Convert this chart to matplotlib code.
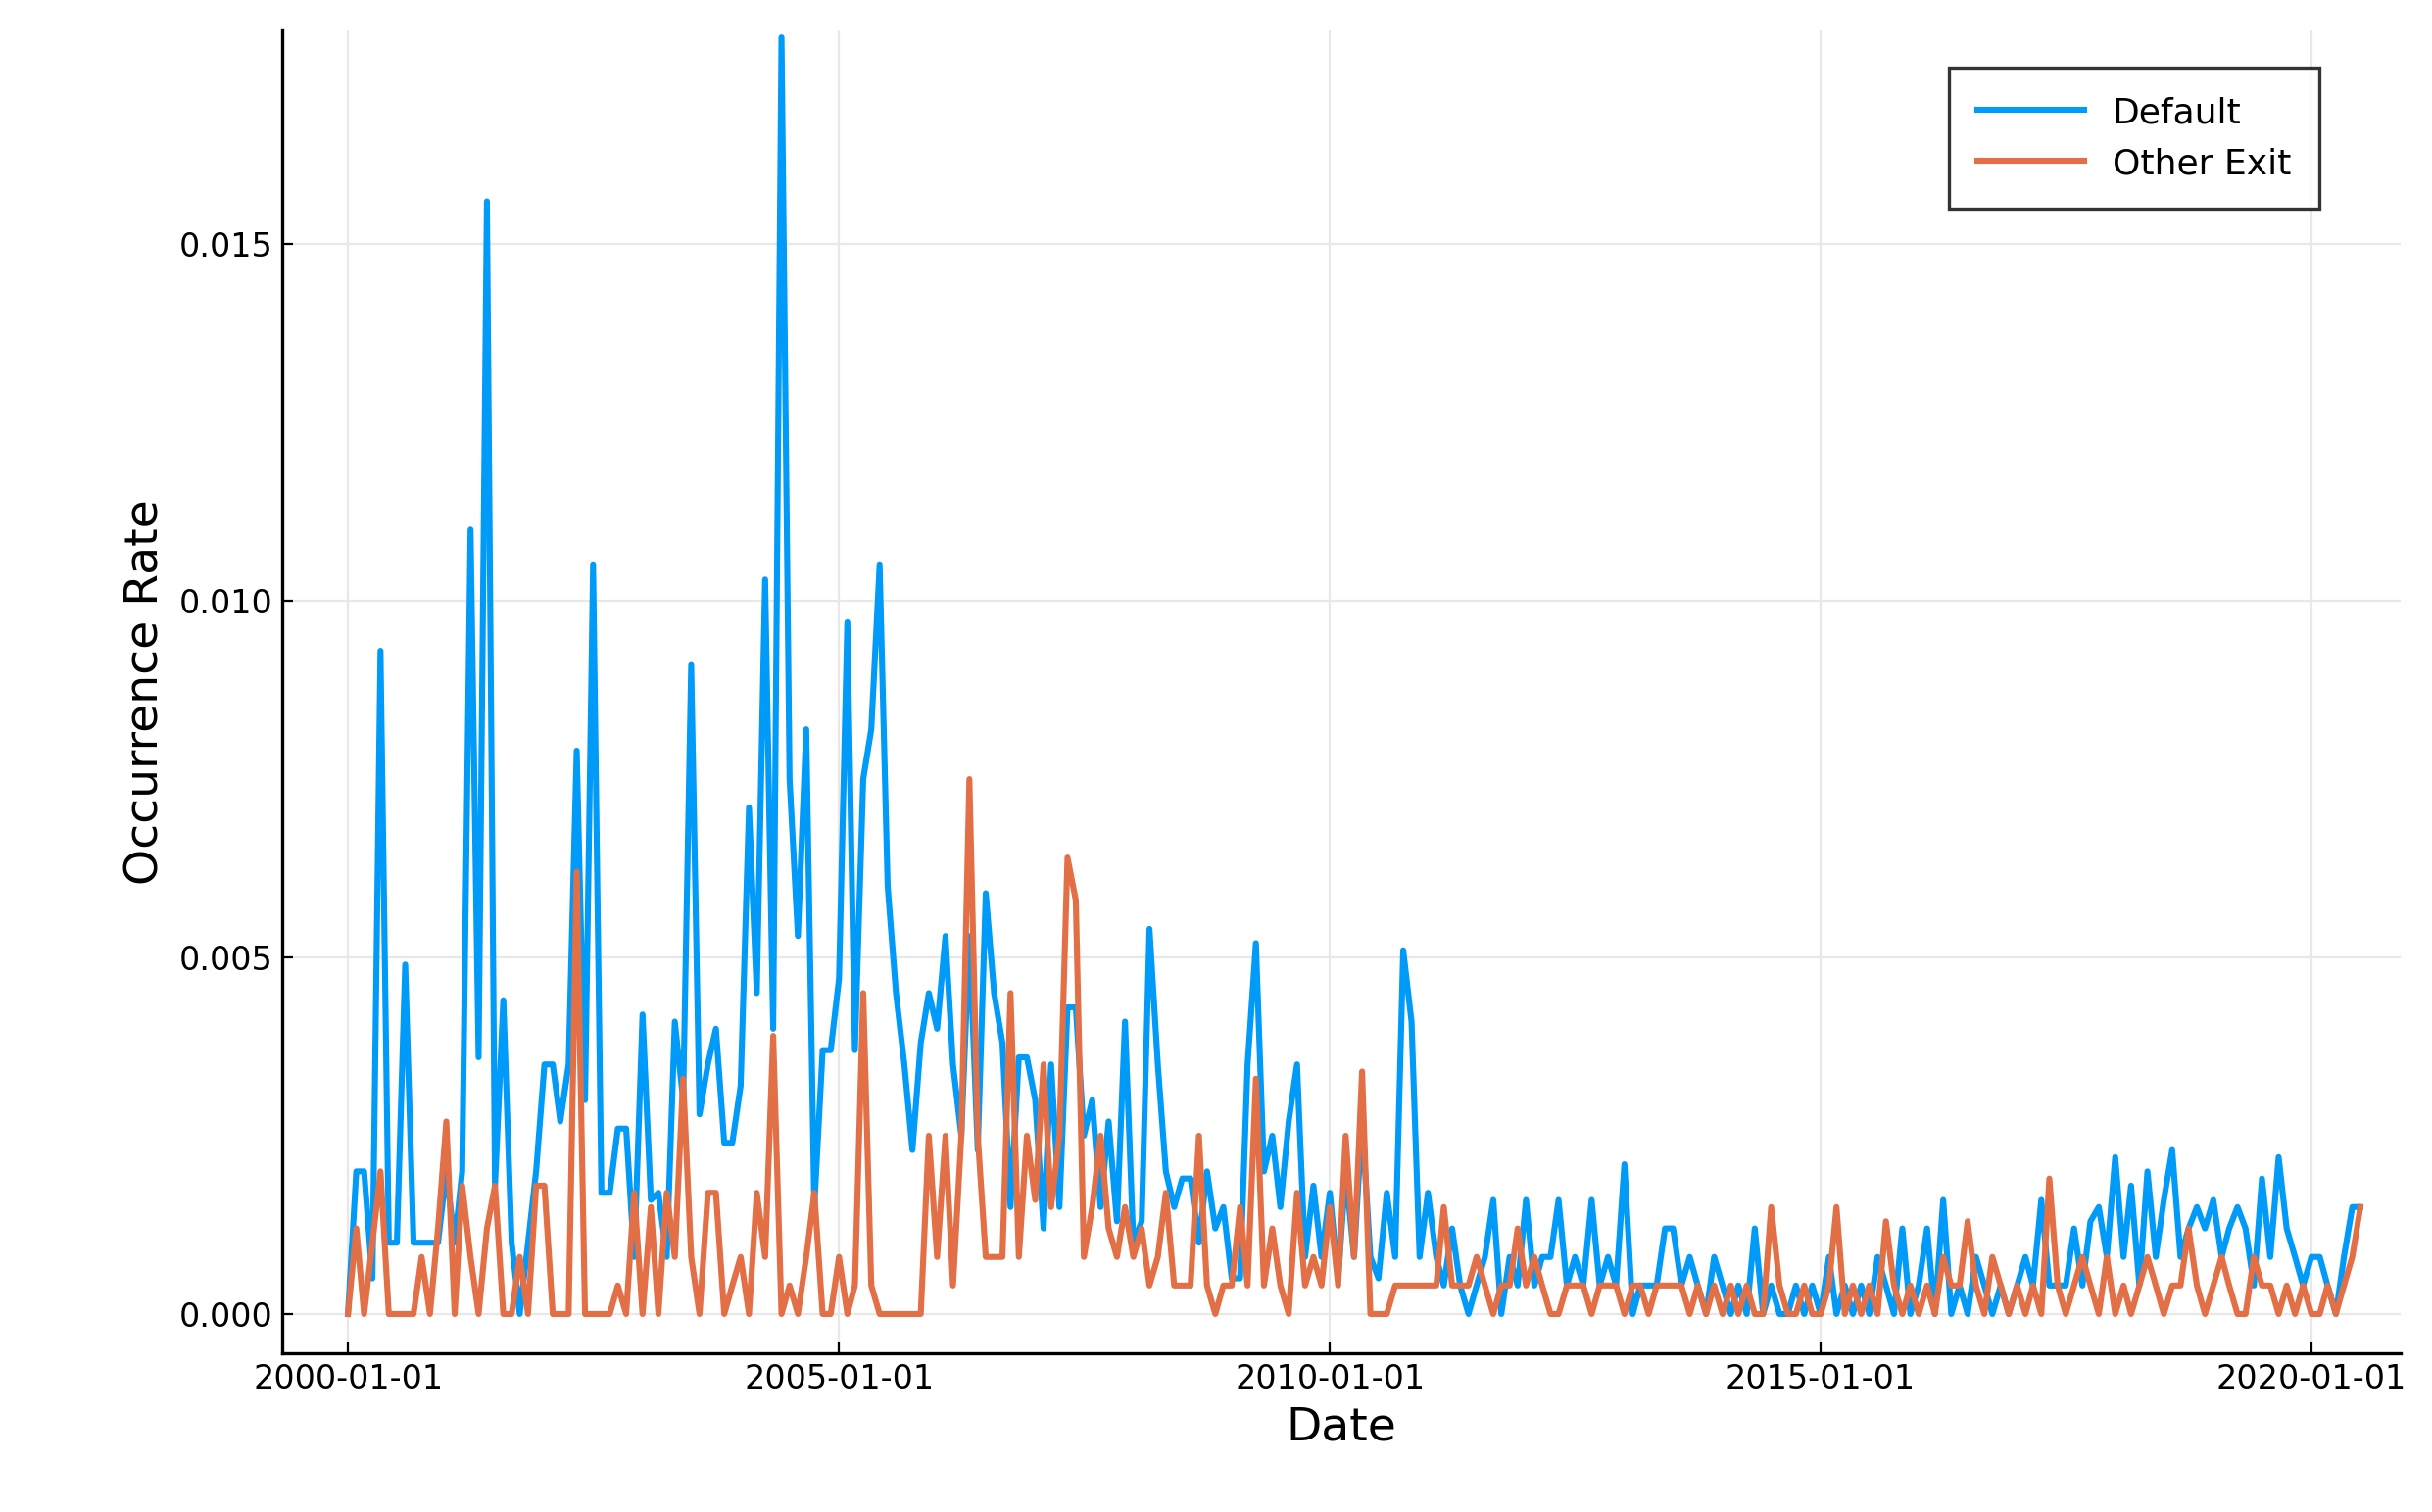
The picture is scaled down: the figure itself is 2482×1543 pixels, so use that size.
import numpy as np
import pandas as pd
import matplotlib.pyplot as plt
import matplotlib.dates as mdates

# monthly occurrence rates, 2000-01 .. 2020-07
default_rate = [
    0, 0.002, 0.002, 0.0005, 0.0093, 0.001, 0.001, 0.0049, 0.001, 0.001, 0.001, 0.001,
    0.002, 0.001, 0.002, 0.0110, 0.0036, 0.0156, 0.0018, 0.0044, 0.001, 0, 0.001, 0.002,
    0.0035, 0.0035, 0.0027, 0.0035, 0.0079, 0.003, 0.0105, 0.0017, 0.0017, 0.0026, 0.0026, 0.0008,
    0.0042, 0.0016, 0.0017, 0.0008, 0.0041, 0.003, 0.0091, 0.0028, 0.0035, 0.004, 0.0024, 0.0024,
    0.0032, 0.0071, 0.0045, 0.0103, 0.004, 0.0179, 0.0075, 0.0053, 0.0082, 0.0015, 0.0037, 0.0037,
    0.0047, 0.0097, 0.0037, 0.0075, 0.0082, 0.0105, 0.006, 0.0045, 0.0035, 0.0023, 0.0038, 0.0045,
    0.004, 0.0053, 0.0035, 0.0025, 0.0053, 0.0023, 0.0059, 0.0045, 0.0038, 0.0015, 0.0036, 0.0036,
    0.003, 0.0012, 0.0035, 0.0015, 0.0043, 0.0043, 0.0025, 0.003, 0.0015, 0.0027, 0.0013, 0.0041,
    0.001, 0.0013, 0.0054, 0.0035, 0.002, 0.0015, 0.0019, 0.0019, 0.001, 0.002, 0.0012, 0.0015,
    0.0005, 0.0005, 0.0035, 0.0052, 0.002, 0.0025, 0.0015, 0.0027, 0.0035, 0.0008, 0.0018, 0.0008,
    0.0017, 0.0005, 0.002, 0.0008, 0.0027, 0.0008, 0.0005, 0.0017, 0.0008, 0.0051, 0.0041, 0.0008,
    0.0017, 0.0008, 0.0004, 0.0012, 0.0004, 0, 0.0004, 0.0008, 0.0016, 0, 0.0008, 0.0004,
    0.0016, 0.0004, 0.0008, 0.0008, 0.0016, 0.0004, 0.0008, 0.0004, 0.0016, 0.0004, 0.0008, 0.0004,
    0.0021, 0, 0.0004, 0.0004, 0.0004, 0.0012, 0.0012, 0.0004, 0.0008, 0.0004, 0, 0.0008,
    0.0004, 0, 0.0004, 0, 0.0012, 0, 0.0004, 0, 0, 0.0004, 0, 0.0004,
    0, 0.0008, 0, 0.0004, 0, 0.0004, 0, 0.0008, 0.0004, 0, 0.0012, 0,
    0.0004, 0.0012, 0, 0.0016, 0, 0.0004, 0, 0.0008, 0.0004, 0, 0.0004, 0,
    0.0004, 0.0008, 0.0004, 0.0016, 0.0004, 0.0004, 0.0004, 0.0012, 0.0004, 0.0013, 0.0015, 0.0008,
    0.0022, 0.0008, 0.0018, 0.0004, 0.002, 0.0008, 0.0016, 0.0023, 0.0008, 0.0012, 0.0015, 0.0012,
    0.0016, 0.0008, 0.0012, 0.0015, 0.0012, 0.0004, 0.0019, 0.0008, 0.0022, 0.0012, 0.0008, 0.0004,
    0.0008, 0.0008, 0.0004, 0, 0.0008, 0.0015, 0.0015,
]
other_exit_rate = [
    0, 0.0012, 0, 0.001, 0.002, 0, 0, 0, 0, 0.0008, 0, 0.0012,
    0.0027, 0, 0.0018, 0.0008, 0, 0.0012, 0.0018, 0, 0, 0.0008, 0, 0.0018,
    0.0018, 0, 0, 0, 0.0062, 0, 0, 0, 0, 0.0004, 0, 0.0017,
    0, 0.0015, 0, 0.0017, 0.0008, 0.0033, 0.0008, 0, 0.0017, 0.0017, 0, 0.0004,
    0.0008, 0, 0.0017, 0.0008, 0.0039, 0, 0.0004, 0, 0.0008, 0.0017, 0, 0,
    0.0008, 0, 0.0004, 0.0045, 0.0004, 0, 0, 0, 0, 0, 0, 0.0025,
    0.0008, 0.0025, 0.0004, 0.0025, 0.0075, 0.0025, 0.0008, 0.0008, 0.0008, 0.0045, 0.0008, 0.0025,
    0.0016, 0.0035, 0.0015, 0.0025, 0.0064, 0.0058, 0.0008, 0.0015, 0.0025, 0.0012, 0.0008, 0.0015,
    0.0008, 0.0012, 0.0004, 0.0008, 0.0017, 0.0004, 0.0004, 0.0004, 0.0025, 0.0004, 0, 0.0004,
    0.0004, 0.0015, 0.0004, 0.0033, 0.0004, 0.0012, 0.0004, 0, 0.0017, 0.0004, 0.0008, 0.0004,
    0.0015, 0.0004, 0.0025, 0.0008, 0.0034, 0, 0, 0, 0.0004, 0.0004, 0.0004, 0.0004,
    0.0004, 0.0004, 0.0015, 0.0004, 0.0004, 0.0004, 0.0008, 0.0004, 0, 0.0004, 0.0004, 0.0012,
    0.0004, 0.0008, 0.0004, 0, 0, 0.0004, 0.0004, 0.0004, 0, 0.0004, 0.0004, 0.0004,
    0, 0.0004, 0.0004, 0, 0.0004, 0.0004, 0.0004, 0.0004, 0, 0.0004, 0, 0.0004,
    0, 0.0004, 0, 0.0004, 0, 0, 0.0015, 0.0004, 0, 0, 0.0004, 0,
    0, 0.0004, 0.0015, 0, 0.0004, 0, 0.0004, 0, 0.0013, 0.0004, 0, 0.0004,
    0, 0.0004, 0, 0.0008, 0.0004, 0.0004, 0.0013, 0.0004, 0, 0.0008, 0.0004, 0,
    0.0004, 0, 0.0004, 0, 0.0019, 0.0004, 0, 0.0004, 0.0008, 0.0004, 0, 0.0008,
    0, 0.0004, 0, 0.0004, 0.0008, 0.0004, 0, 0.0004, 0.0004, 0.0012, 0.0004, 0,
    0.0004, 0.0008, 0.0004, 0, 0, 0.0008, 0.0004, 0.0004, 0, 0.0004, 0, 0.0004,
    0, 0, 0.0004, 0, 0.0004, 0.0008, 0.0015,
]
dates = pd.date_range("2000-01-01", periods=len(default_rate), freq="MS")
tick_dates = pd.to_datetime(["2000-01-01", "2005-01-01", "2010-01-01", "2015-01-01", "2020-01-01"])

fig = plt.figure(figsize=(12.41, 7.715), dpi=200)
ax = fig.add_axes([0.116, 0.105, 0.871, 0.875])

ax.plot(dates, default_rate, color="#009af9", lw=2.2, label="Default")
ax.plot(dates, other_exit_rate, color="#e26f46", lw=2.2, label="Other Exit")

ax.set_xlim(pd.Timestamp("1999-05-01"), pd.Timestamp("2020-04-01") + pd.Timedelta(days=240))
ax.set_ylim(-0.00055, 0.018)
ax.set_xticks(tick_dates)
ax.xaxis.set_major_formatter(mdates.DateFormatter("%Y-%m-%d"))
ax.set_yticks([0, 0.005, 0.010, 0.015])
ax.set_yticklabels(["0.000", "0.005", "0.010", "0.015"])
ax.tick_params(labelsize=12, direction="in", length=4)
ax.grid(True, color="#e8e8e8", lw=0.8)
for s in ["top", "right"]:
    ax.spines[s].set_visible(False)
for s in ["left", "bottom"]:
    ax.spines[s].set_linewidth(1.2)
ax.set_xlabel("Date", fontsize=17)
ax.set_ylabel("Occurrence Rate", fontsize=17)

leg = ax.legend(loc="upper right", fontsize=13, fancybox=False, edgecolor="black",
                borderpad=0.8, handlelength=3, bbox_to_anchor=(0.97, 0.985))
leg.get_frame().set_linewidth(1.2)

fig.savefig("out.png", dpi=200)
